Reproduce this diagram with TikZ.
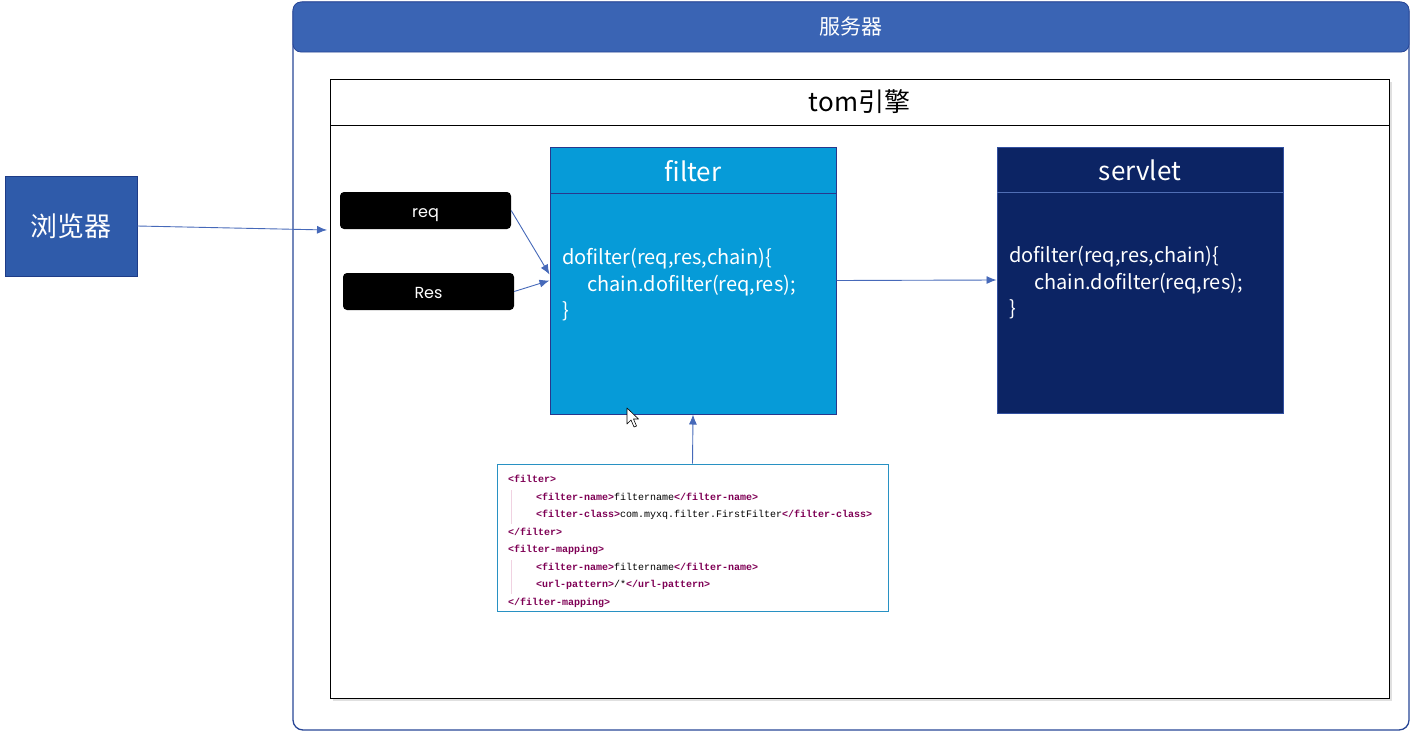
\documentclass[tikz,border=0pt]{standalone}
\usepackage{fontspec}
\setmainfont{Noto Sans CJK SC}
\newfontfamily\popfont{Poppins}
\newfontfamily\xmlfont{Liberation Mono}
\usetikzlibrary{arrows.meta}
\definecolor{srvhead}{RGB}{58,100,180}
\definecolor{srvborder}{RGB}{40,70,150}
\definecolor{brfill}{RGB}{47,91,170}
\definecolor{brborder}{RGB}{30,60,135}
\definecolor{filfill}{RGB}{6,155,216}
\definecolor{filborder}{RGB}{40,55,140}
\definecolor{svfill}{RGB}{12,36,100}
\definecolor{svborder}{RGB}{50,80,160}
\definecolor{svline}{RGB}{80,110,180}
\definecolor{arrc}{RGB}{70,105,185}
\definecolor{xmlborder}{RGB}{40,145,195}
\definecolor{tagc}{RGB}{127,0,85}
\definecolor{guide}{RGB}{240,210,225}
\newcommand{\tg}[1]{{\bfseries\color{tagc}#1}}
\tikzset{
  conn/.style={draw=arrc, line width=0.9pt, -{Latex[length=10pt,width=8pt]}},
  pill/.style={fill=black, rounded corners=4pt, text=white, font=\popfont\fontsize{16}{18}\selectfont, minimum width=171pt, minimum height=37pt, inner sep=0pt, text height=14pt, text depth=0pt},
  cls/.style={minimum width=286pt, inner sep=0pt, line width=1pt}
}
\begin{document}
\begin{tikzpicture}[x=1pt,y=-1pt]
\useasboundingbox (0,0) rectangle (1413,736);
% server
\node[draw=srvborder, line width=1.3pt, rounded corners=10pt, minimum width=1116pt, minimum height=728pt, inner sep=0pt] (server) at (851,366) {};
\node[fill=srvhead, draw=srvborder, line width=0.8pt, rounded corners=8pt, minimum width=1116pt, minimum height=50pt, inner sep=0pt, text=white, font=\fontsize{21}{24}\selectfont] (serverhead) at (851,27) {服务器};
% tom engine
\fill[black!12] (333,82) rectangle (1392,701);
\node[draw=black, fill=white, line width=0.8pt, minimum width=1059pt, minimum height=619pt, inner sep=0pt] (tom) at (859.5,388.5) {};
\draw[black, line width=0.8pt] (330,125) -- (1389,125);
\node[font=\fontsize{26}{30}\selectfont, text=black] (tomtitle) at (859.5,102) {tom引擎};
% browser
\node[fill=brfill, draw=brborder, line width=0.8pt, minimum width=132pt, minimum height=100pt, inner sep=0pt, text=white, font=\fontsize{27}{30}\selectfont] (browser) at (71,226) {浏览器};
\coordinate (brend) at (327,230);
\draw[conn] (browser.east) -- (brend);
% req res
\node[pill] (req) at (425.5,210.5) {req};
\node[pill] (res) at (428.5,291.5) {Res};
% filter
\node[cls, fill=filfill, draw=filborder, minimum height=267pt] (filter) at (693,280.5) {};
\draw[filborder, line width=1pt] (550,193) -- (836,193);
\node[text=white, font=\fontsize{26}{30}\selectfont] (filtertitle) at (693,171) {filter};
\node[text=white, anchor=north west, align=left, inner sep=0pt, font=\fontsize{20}{26.5}\selectfont] (filterbody) at (562,248) {dofilter(req,res,chain)\{\\\hspace*{25pt}chain.dofilter(req,res);\\\}};
% servlet
\node[cls, fill=svfill, draw=svborder, minimum height=266pt] (servlet) at (1140,280) {};
\draw[svline, line width=1pt] (997,192) -- (1283,192);
\node[text=white, font=\fontsize{26}{30}\selectfont] (servlettitle) at (1140,170) {servlet};
\node[text=white, anchor=north west, align=left, inner sep=0pt, font=\fontsize{20}{26.5}\selectfont] (servletbody) at (1009,246) {dofilter(req,res,chain)\{\\\hspace*{25pt}chain.dofilter(req,res);\\\}};
% xml
\node[draw=xmlborder, fill=white, line width=1pt, minimum width=391pt, minimum height=147pt, inner sep=0pt] (xml) at (692.5,537.5) {};
\draw[guide, line width=1pt] (511,490) -- (511,524);
\draw[guide, line width=1pt] (511,560) -- (511,594);
\node[anchor=north west, align=left, inner sep=0pt, font=\xmlfont\fontsize{10}{17.5}\selectfont] (xmltext) at (508,475) {%
\tg{<filter>}\\
\hspace*{28pt}\tg{<filter-name>}filtername\tg{</filter-name>}\\
\hspace*{28pt}\tg{<filter-class>}com.myxq.filter.FirstFilter\tg{</filter-class>}\\
\tg{</filter>}\\
\tg{<filter-mapping>}\\
\hspace*{28pt}\tg{<filter-name>}filtername\tg{</filter-name>}\\
\hspace*{28pt}\tg{<url-pattern>}/*\tg{</url-pattern>}\\
\tg{</filter-mapping>}};
% connectors
\draw[conn] (req.east) -- ([yshift=6pt]filter.west);
\draw[conn] (res.east) -- (filter.west);
\draw[conn] (filter.east) -- (servlet.west);
\draw[conn] (xml.north) -- (filter.south);
% mouse cursor
\draw[fill=white, draw=black, line width=0.6pt, line join=round] (627,408) -- (627,424) -- (631,420) -- (634,427) -- (636.5,426) -- (633.5,419) -- (638.5,419) -- cycle;
\end{tikzpicture}
\end{document}
